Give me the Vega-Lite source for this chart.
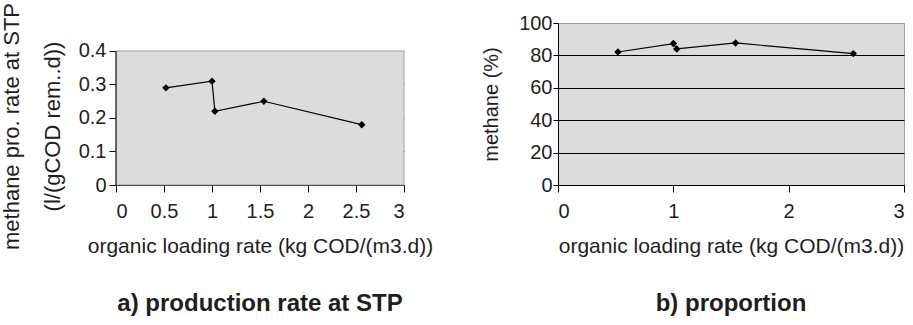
{
  "$schema": "https://vega.github.io/schema/vega-lite/v6.json",
  "padding": {"left": 0, "top": 2, "right": 0, "bottom": 0},
  "background": "white",
  "datasets": {
    "d": [
      {"olr": 0.52, "rate": 0.29, "methane": 82.1},
      {"olr": 1.0, "rate": 0.31, "methane": 87.3},
      {"olr": 1.03, "rate": 0.22, "methane": 84.0},
      {"olr": 1.54, "rate": 0.25, "methane": 87.7},
      {"olr": 2.56, "rate": 0.18, "methane": 81.1}
    ]
  },
  "config": {
    "font": "Liberation Sans",
    "axis": {
      "labelFont": "Liberation Sans",
      "titleFont": "Liberation Sans",
      "labelColor": "#1e1e1e",
      "titleColor": "#1e1e1e",
      "labelFontSize": 20,
      "titleFontSize": 21,
      "titleFontWeight": "normal",
      "domainColor": "black",
      "tickColor": "black",
      "gridColor": "black",
      "zindex": 1
    },
    "title": {"font": "Liberation Sans", "fontSize": 24, "fontWeight": "bold", "color": "#1e1e1e"}
  },
  "bounds": "flush",
  "spacing": 154,
  "hconcat": [
    {
      "width": 288,
      "height": 162,
      "view": {"stroke": null, "fill": null},
      "title": {"text": "a) production rate at STP", "orient": "bottom", "offset": 36, "anchor": "middle", "frame": "group"},
      "layer": [
        {
          "data": {"values": [{}]},
          "mark": {"type": "rect", "fill": "#dcdcdc", "stroke": "#a0a0a0", "strokeWidth": 1},
          "encoding": {
            "x": {"datum": 0},
            "x2": {"datum": 3},
            "y": {"datum": 0},
            "y2": {"datum": 0.4}
          }
        },
        {
          "data": {"values": [{}]},
          "mark": {"type": "rule", "color": "black", "strokeWidth": 1},
          "encoding": {
            "x": {"datum": 0},
            "y": {"datum": 0},
            "y2": {"datum": 0.4}
          }
        },
        {
          "data": {"name": "d"},
          "mark": {"type": "line", "color": "black", "strokeWidth": 1.2, "point": {"shape": "diamond", "filled": true, "color": "black", "size": 55}},
          "encoding": {
            "x": {
              "field": "olr", "type": "quantitative",
              "scale": {"domain": [0, 3], "nice": false, "zero": false},
              "axis": {
                "values": [0, 0.5, 1, 1.5, 2, 2.5, 3], "format": "~r", "grid": false,
                "tickSize": 7, "labelPadding": 9,
                "title": "organic loading rate (kg COD/(m3.d))", "titlePadding": 14
              }
            },
            "y": {
              "field": "rate", "type": "quantitative",
              "scale": {"domain": [0, 0.483582], "nice": false, "zero": false},
              "axis": {
                "values": [0, 0.1, 0.2, 0.3, 0.4], "format": "~r", "grid": true,
                "gridColor": {"condition": {"test": "datum.value > 0.39", "value": "#a0a0a0"}, "value": "black"},
                "domain": false, "tickSize": 7, "labelPadding": 3,
                "title": ["methane pro. rate at STP", "(l/(gCOD rem..d))"],
                "titleFontSize": 22, "titleLineHeight": 41, "titlePadding": 14, "titleY": 103
              }
            }
          }
        }
      ]
    },
    {
      "width": 346,
      "height": 162,
      "view": {"fill": "#dcdcdc", "stroke": "#a0a0a0"},
      "title": {"text": "b) proportion", "orient": "bottom", "offset": 36, "anchor": "middle", "frame": "group"},
      "data": {"name": "d"},
      "mark": {"type": "line", "color": "black", "strokeWidth": 1.2, "point": {"shape": "diamond", "filled": true, "color": "black", "size": 55}},
      "encoding": {
        "x": {
          "field": "olr", "type": "quantitative",
          "scale": {"domain": [0, 3], "nice": false, "zero": false},
          "axis": {
            "values": [0, 1, 2, 3], "format": "~r", "grid": false,
            "tickSize": 7, "labelPadding": 9,
            "title": "organic loading rate (kg COD/(m3.d))", "titlePadding": 14
          }
        },
        "y": {
          "field": "methane", "type": "quantitative",
          "scale": {"domain": [0, 100], "nice": false, "zero": false},
          "axis": {
            "values": [0, 20, 40, 60, 80, 100], "format": "~r", "grid": true,
            "gridColor": {"condition": {"test": "datum.value > 99", "value": "#a0a0a0"}, "value": "black"},
            "tickSize": 5, "labelPadding": 1,
            "title": "methane (%)", "titleFontSize": 20, "titlePadding": 17
          }
        }
      }
    }
  ]
}
